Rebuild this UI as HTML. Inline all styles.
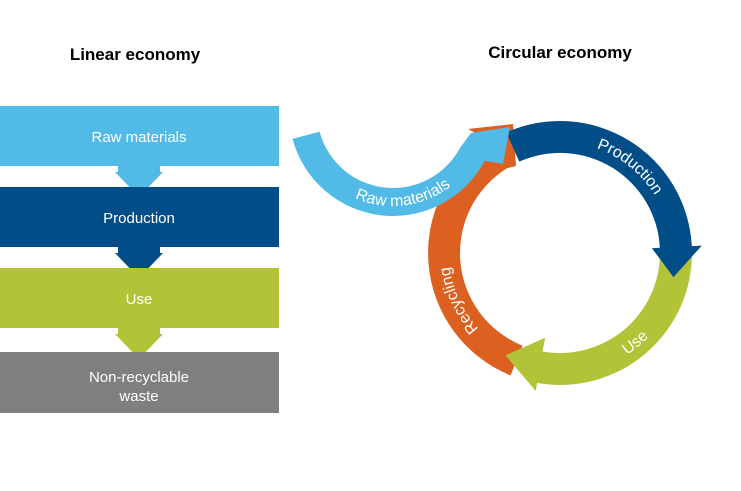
<!DOCTYPE html>
<html><head><meta charset="utf-8"><style>
html,body{margin:0;padding:0;background:#fff;}
body{width:741px;height:486px;overflow:hidden;position:relative;font-family:"Liberation Sans",sans-serif;}
</style></head><body>
<svg id="s" width="741" height="486" viewBox="0 0 741 486" xmlns="http://www.w3.org/2000/svg" font-family="Liberation Sans, sans-serif">
<text x="135" y="60" font-size="17" font-weight="bold" text-anchor="middle" fill="#000">Linear economy</text>
<text x="560" y="58" font-size="17" font-weight="bold" text-anchor="middle" fill="#000">Circular economy</text>
<rect x="0" y="106" width="279" height="60" fill="#52bae6"/>
<polygon points="118,166 160,166 160,172 163,172 139,197 115,172 118,172" fill="#52bae6"/>
<rect x="0" y="187" width="279" height="60" fill="#014d88"/>
<polygon points="118,247 160,247 160,253 163,253 139,278 115,253 118,253" fill="#014d88"/>
<rect x="0" y="268" width="279" height="60" fill="#b2c337"/>
<polygon points="118,328 160,328 160,334 163,334 139,359 115,334 118,334" fill="#b2c337"/>
<rect x="0" y="352" width="279" height="61" fill="#7f7f7f"/>
<g fill="#fff" font-size="15" text-anchor="middle">
<text x="139" y="142">Raw materials</text>
<text x="139" y="223">Production</text>
<text x="139" y="304">Use</text>
<text x="139" y="382">Non-recyclable</text>
<text x="139" y="401">waste</text>
</g>
<g id="g"></g>
</svg>
<script>
var NS="http://www.w3.org/2000/svg";
function P(c,r,a){var t=a*Math.PI/180;return [(c[0]+r*Math.cos(t)).toFixed(1),(c[1]+r*Math.sin(t)).toFixed(1)];}
function add(d,col){var p=document.createElementNS(NS,"path");p.setAttribute("d",d);p.setAttribute("fill",col);document.getElementById("g").appendChild(p);}
function arrow(c,r1,r2,a0,a1,h1,h2,tip,col){
 var inc=a1>a0?1:0, large=Math.abs(a1-a0)>180?1:0, rm=(r1+r2)/2;
 var d="M"+P(c,r2,a0)+" A"+r2+","+r2+" 0 "+large+" "+inc+" "+P(c,r2,a1)+
 " L"+P(c,h2,a1)+" L"+P(c,rm,tip)+" L"+P(c,h1,a1)+" L"+P(c,r1,a1)+
 " A"+r1+","+r1+" 0 "+large+" "+(1-inc)+" "+P(c,r1,a0)+" Z";
 add(d,col);}
function body(c,r1,r2,a0,a1,extra,col){
 var inc=a1>a0?1:0, large=Math.abs(a1-a0)>180?1:0;
 var d="M"+P(c,r2,a0)+" A"+r2+","+r2+" 0 "+large+" "+inc+" "+P(c,r2,a1)+" "+extra+
 " L"+P(c,r1,a1)+" A"+r1+","+r1+" 0 "+large+" "+(1-inc)+" "+P(c,r1,a0)+" Z";
 add(d,col);}
var id=0;
function label(c,r,ac,span,inc,txt,size){
 var a0=inc?ac-span/2:ac+span/2, a1=inc?ac+span/2:ac-span/2;
 var d="M"+P(c,r,a0)+" A"+r+","+r+" 0 0 "+(inc?1:0)+" "+P(c,r,a1);
 var pid="tp"+(id++);
 var p=document.createElementNS(NS,"path");p.setAttribute("d",d);p.setAttribute("id",pid);p.setAttribute("fill","none");
 var g=document.getElementById("g");g.appendChild(p);
 var t=document.createElementNS(NS,"text");t.setAttribute("font-size",size);t.setAttribute("fill","#fff");
 var tp=document.createElementNS(NS,"textPath");tp.setAttribute("href","#"+pid);tp.setAttribute("startOffset","50%");tp.setAttribute("text-anchor","middle");
 tp.textContent=txt;t.appendChild(tp);g.appendChild(t);}
var C=[560,253], R=[393,112];
// orange ring body with head at top-left
body(C,100,132,112,238,"L468,129 L513,124 L516,166","#dc6120");
arrow(C,100,132,-8,100,86,140,118,"#b2c337");
arrow(C,100,132,-114,-3,92,142,12,"#014d88");
// raw materials arc (counter-clockwise from left to right)
body(R,76,104,165,28,"L503,164 L510,127 L471,133","#52bae6");
label(C,111,-51,120,1,"Production",16);
label(C,122,50,80,0,"Use",16);
label(C,111,155,90,1,"Recycling",16);
label(R,94,83,110,0,"Raw materials",16);
</script>
</body></html>
